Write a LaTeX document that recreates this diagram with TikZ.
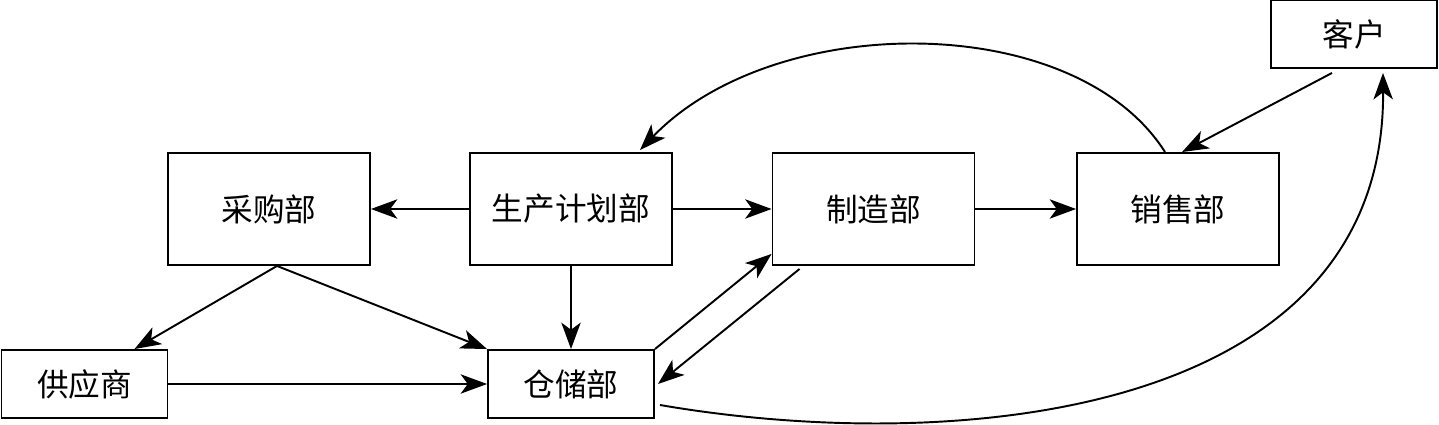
\documentclass[tikz,border=0pt]{standalone}
\usepackage{fontspec}
\newfontfamily\cjk{Noto Sans CJK SC}
\usetikzlibrary{arrows.meta, positioning}

\tikzset{
  bigbox/.style={draw, line width=1.1pt, minimum width=4.04cm, minimum height=2.24cm, font=\cjk\fontsize{18}{18}\selectfont},
  smallbox/.style={draw, line width=1.1pt, minimum width=3.32cm, minimum height=1.36cm, font=\cjk\fontsize{18}{18}\selectfont},
  flow/.style={-{Stealth[length=15pt, width=11pt, inset=4pt]}, line width=1.1pt}
}

\begin{document}
\begin{tikzpicture}[x=0.02cm, y=-0.02cm]
  \useasboundingbox (0,0) rectangle (1439,425);

  % departments
  \node (purch) [bigbox] at (269,209) {采购部};
  \node (plan)  [bigbox] at (571,209) {生产计划部};
  \node (manuf) [bigbox] at (873.5,209) {制造部};
  \node (sales) [bigbox] at (1178,209) {销售部};

  % outside parties and store
  \node (cust)  [smallbox] at (1354,34) {客户};
  \node (supp)  [smallbox] at (84.5,384) {供应商};
  \node (store) [smallbox] at (571,384) {仓储部};

  % straight flows
  \draw[flow] (plan.west) -- (purch.east);
  \draw[flow] (plan.east) -- (manuf.west);
  \draw[flow] (manuf.east) -- (sales.west);
  \draw[flow] (plan.south) -- (store.north);
  \draw[flow] ([xshift=0.16cm]purch.south) -- ([xshift=1cm]supp.north);
  \draw[flow] ([xshift=0.16cm]purch.south) -- (store.north west);
  \draw[flow] (supp.east) -- (store.west);
  \draw[flow] (store.north east) -- ([yshift=0.24cm]manuf.south west);
  \draw[flow] ([xshift=0.56cm, yshift=-0.06cm]manuf.south west) -- ([xshift=0.06cm]store.east);
  \draw[flow] ([xshift=-0.44cm, yshift=-0.08cm]cust.south) -- ([xshift=0.08cm]sales.north);

  % curved flows
  \draw[flow] ([xshift=-0.26cm]sales.north) .. controls (1075,10) and (775,10) .. ([xshift=1.38cm, yshift=0.04cm]plan.north);
  \draw[flow] ([xshift=0.1cm, yshift=-0.42cm]store.east) .. controls (950,455) and (1385,420) .. ([xshift=0.58cm, yshift=-0.08cm]cust.south);

\end{tikzpicture}
\end{document}
